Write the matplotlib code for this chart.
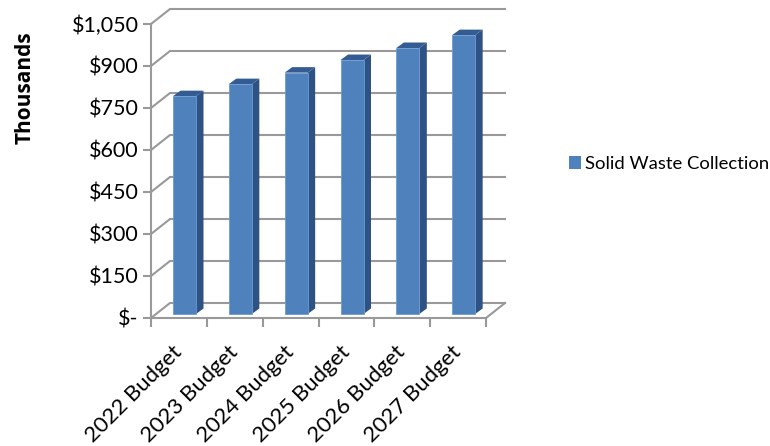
import matplotlib
matplotlib.use("Agg")
import matplotlib.pyplot as plt
from matplotlib.patches import Polygon, Patch

plt.rcParams["font.family"] = ["Lato", "DejaVu Sans"]

years = ["2022 Budget", "2023 Budget", "2024 Budget", "2025 Budget", "2026 Budget", "2027 Budget"]
collection = [778, 821, 862, 907, 950, 996]
y_ticks = [0, 150, 300, 450, 600, 750, 900, 1050]
y_labels = ["$-", "$150", "$300", "$450", "$600", "$750", "$900", "$1,050"]

W, H = 770, 446
GRID = "#999999"
FRONT = "#4F81BD"
SIDE = "#2F5285"
TOP = "#345C92"

# pixels per unit
px_x = (486 - 151) / 6
px_y = (318 - 24) / 1050
wall_dx = 19 / px_x
wall_dy = 15 / px_y
bar_w = 23 / px_x
bar_dx = 7.5 / px_x
bar_dy = 5.5 / px_y
floor_dx = 0.1
floor_dy = 4 / px_y
label_shift = 7 / px_x

fig = plt.figure(figsize=(W / 100, H / 100), dpi=100)
ax = fig.add_axes([151 / W, 1 - 318 / H, (505 - 151) / W, (318 - 9) / H])
ax.set_xlim(0, 6 + wall_dx)
ax.set_ylim(0, 1050 + wall_dy)
ax.patch.set_visible(False)

for s in ["top", "right"]:
    ax.spines[s].set_visible(False)
for s in ["left", "bottom"]:
    ax.spines[s].set_color(GRID)
    ax.spines[s].set_linewidth(1.5)
ax.spines["left"].set_bounds(0, 1050)
ax.spines["bottom"].set_bounds(0, 6)

ax.set_yticks(y_ticks)
ax.set_yticklabels(y_labels, fontsize=15.5, color="black")
ax.tick_params(axis="y", length=6, width=1.5, color=GRID, pad=3)

ax.set_xticks(range(7))
ax.set_xticklabels([])
ax.tick_params(axis="x", which="major", length=6.5, width=1.5, color=GRID)
ax.set_xticks([i + 0.5 - label_shift for i in range(6)], minor=True)
ax.set_xticklabels(years, minor=True, fontsize=15.9, rotation=45, ha="right",
                   rotation_mode="anchor")
ax.tick_params(axis="x", which="minor", length=0, pad=17)

# back wall gridlines and their diagonals
for v in y_ticks:
    ax.plot([0, wall_dx, 6 + wall_dx], [v, v + wall_dy, v + wall_dy],
            color=GRID, lw=1.5, clip_on=False, zorder=1, solid_joinstyle="miter")
ax.plot([6, 6 + wall_dx], [0, wall_dy], color=GRID, lw=1.5, clip_on=False, zorder=1)

# 3d bars
for i, val in enumerate(collection):
    x0 = i + 0.5 + floor_dx - bar_w / 2
    x1 = x0 + bar_w
    y0 = floor_dy
    y1 = floor_dy + val
    ax.add_patch(Polygon([(x1, y0), (x1 + bar_dx, y0 + bar_dy), (x1 + bar_dx, y1 + bar_dy), (x1, y1)],
                         fc=SIDE, ec="none", zorder=3))
    ax.add_patch(Polygon([(x0, y1), (x1, y1), (x1 + bar_dx, y1 + bar_dy), (x0 + bar_dx, y1 + bar_dy)],
                         fc=TOP, ec="none", zorder=3))
    ax.add_patch(Polygon([(x0, y0), (x1, y0), (x1, y1), (x0, y1)],
                         fc=FRONT, ec="#6C9BD2", lw=0.6, zorder=4))

fig.text(25 / W, 1 - 88 / H, "Thousands", rotation=90, fontsize=15, fontweight="bold",
         family="Open Sans", ha="center", va="center")

fig.legend(handles=[Patch(fc=FRONT, ec="none", label="Solid Waste Collection")],
           loc="center left", bbox_to_anchor=(569 / W, 1 - 164 / H), frameon=False,
           fontsize=13.3, handlelength=0.65, handleheight=0.65, handletextpad=0.22,
           borderpad=0, borderaxespad=0)

fig.savefig("out.png", dpi=100)
